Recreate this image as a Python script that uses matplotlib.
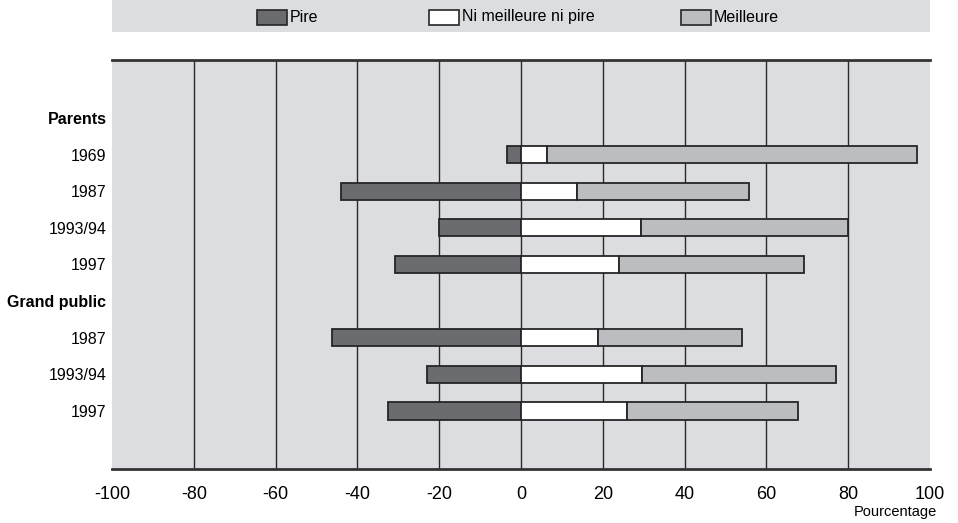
import matplotlib.pyplot as plt
from matplotlib.patches import Rectangle
from matplotlib import font_manager

# row labels, top to bottom (headers have no bars)
labels = ['Parents', '1969', '1987', '1993/94', '1997',
          'Grand public', '1987', '1993/94', '1997']
headers = ['Parents', 'Grand public']

# percentages per row (None for header rows)
pire = [None, -3.4, -44.1, -20.0, -30.7, None, -46.1, -23.0, -32.4]
ni = [None, 6.3, 13.8, 29.4, 24.0, None, 18.9, 29.7, 25.9]
meilleure_total = [None, 96.7, 55.8, 79.9, 69.3, None, 54.0, 77.1, 67.7]

xticks = list(range(-100, 101, 20))

c_pire = '#6b6c70'
c_ni = '#ffffff'
c_meil = '#bcbdc1'
c_bg = '#dcdde0'
c_edge = '#262626'

names = [f.name for f in font_manager.fontManager.ttflist]
narrow = 'Liberation Sans Narrow' if 'Liberation Sans Narrow' in names else 'Liberation Sans'
plt.rcParams['font.family'] = ['Liberation Sans', 'DejaVu Sans']

W, H = 958, 523
fig = plt.figure(figsize=(W / 100, H / 100), dpi=100)
ax = fig.add_axes([112 / W, 1 - 469 / H, (930 - 112) / W, (469 - 60) / H])
ax.set_facecolor(c_bg)

ys = list(range(len(labels)))
h = 0.47
for y, p, n, m in zip(ys, pire, ni, meilleure_total):
    if p is None:
        continue
    ax.barh(y, p, height=h, left=0, color=c_pire, edgecolor=c_edge, linewidth=1.3, zorder=3)
    ax.barh(y, n, height=h, left=0, color=c_ni, edgecolor=c_edge, linewidth=1.3, zorder=3)
    ax.barh(y, m - n, height=h, left=n, color=c_meil, edgecolor=c_edge, linewidth=1.3, zorder=3)

ax.set_xlim(-100, 100)
ax.set_ylim(len(labels) - 1 + 1.58, -1.58)
ax.set_xticks(xticks)
ax.set_xticklabels([str(t) for t in xticks], fontsize=13, family=narrow)
ax.set_yticks(ys)
ax.set_yticklabels(labels, fontsize=11.5)
for t in ax.get_yticklabels():
    if t.get_text() in headers:
        t.set_fontweight('bold')
ax.tick_params(axis='y', length=0, pad=4)
ax.tick_params(axis='x', length=0, pad=12)
for x in xticks[1:-1]:
    ax.axvline(x, color='#2a2a2a', linewidth=1.0, zorder=1)
for s in ['left', 'right']:
    ax.spines[s].set_visible(False)
for s in ['top', 'bottom']:
    ax.spines[s].set_linewidth(2.0)
    ax.spines[s].set_color('#333333')

ax.text(1.009, -0.105, 'Pourcentage', transform=ax.transAxes, ha='right', va='center',
        fontsize=10.5)

# legend band
fig.patches.append(Rectangle((112 / W, 1 - 32 / H), (930 - 112) / W, 32 / H,
                             transform=fig.transFigure, facecolor=c_bg, edgecolor='none'))
entries = [('Pire', c_pire, 257), ('Ni meilleure ni pire', c_ni, 429), ('Meilleure', c_meil, 681)]
for text, col, x0 in entries:
    fig.patches.append(Rectangle((x0 / W, 1 - 25 / H), 30 / W, 15 / H,
                                 transform=fig.transFigure, facecolor=col,
                                 edgecolor=c_edge, linewidth=1.2))
    fig.text((x0 + 33) / W, 1 - 17 / H, text, ha='left', va='center', fontsize=11.5)

fig.savefig('out.png', dpi=100)
